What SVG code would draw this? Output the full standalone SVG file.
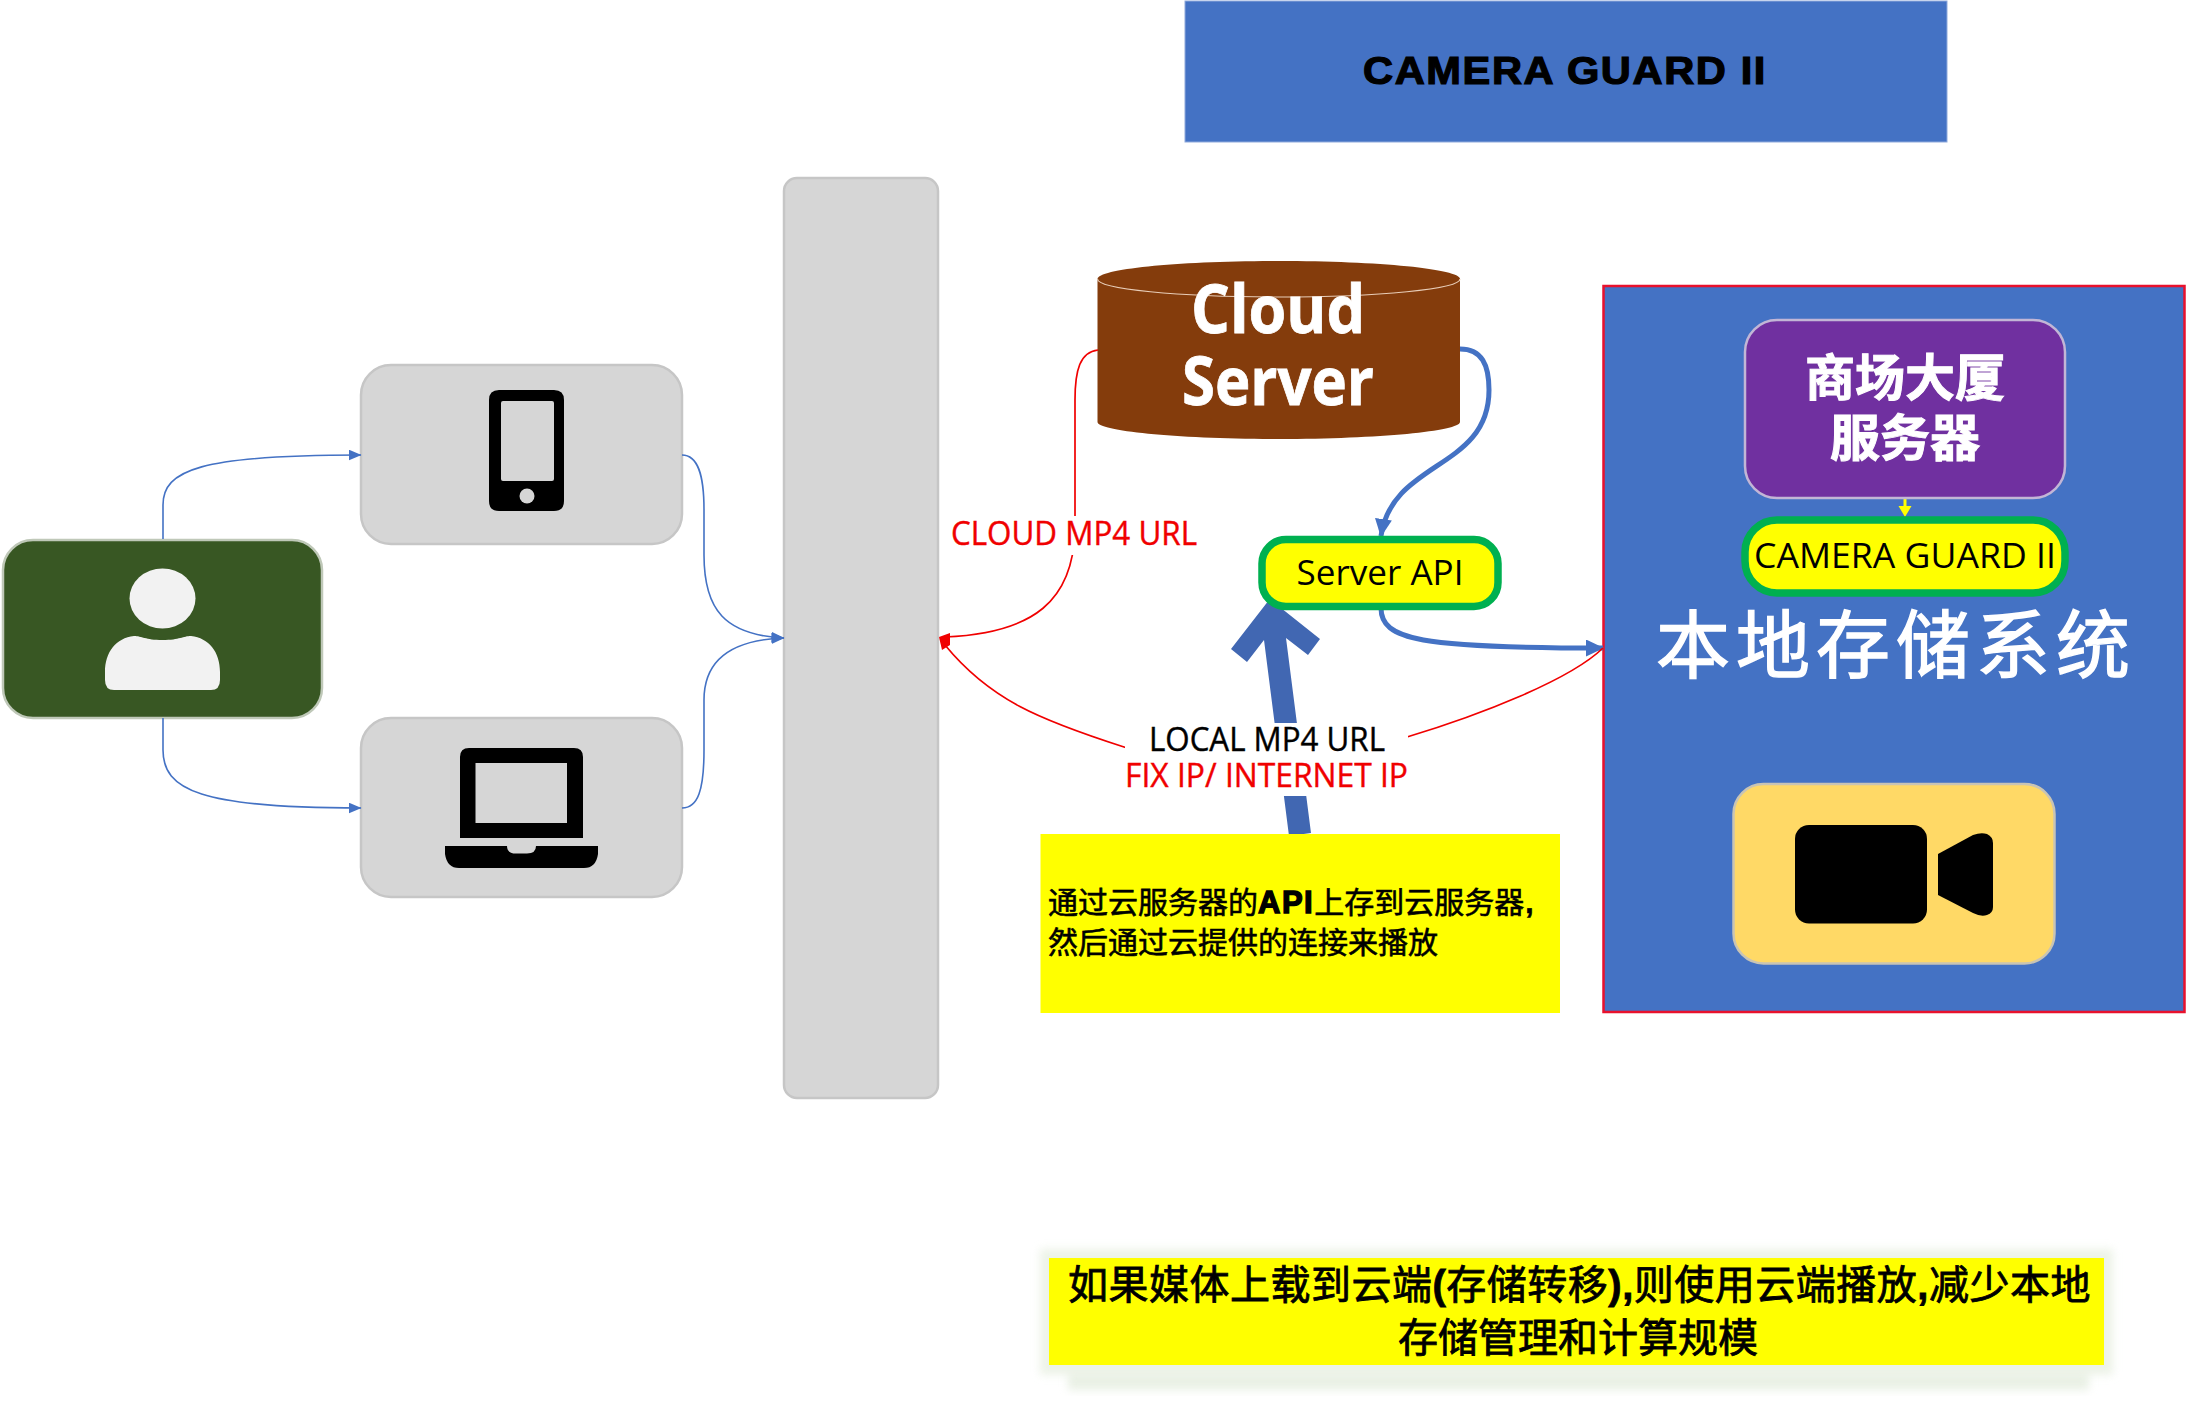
<svg xmlns="http://www.w3.org/2000/svg" width="2186" height="1403" viewBox="0 0 2186 1403">
<style>
.gray{fill:#D6D6D6;stroke:#C6C6C6;stroke-width:2.5}
.thin{fill:none;stroke:#4472C4;stroke-width:1.6}
.red{fill:none;stroke:#F00000;stroke-width:1.7}
.fat{fill:none;stroke:#4472C4;stroke-width:5}
.pill{fill:#FFFF00;stroke:#00B050;stroke-width:7.5}
.t{font-family:"Open Sans","Liberation Sans","Noto Sans CJK SC",sans-serif}
.cjk{font-family:"Noto Sans CJK SC",sans-serif}
.ar{font-family:"Liberation Sans","Noto Sans CJK SC",sans-serif}
.mid{text-anchor:middle}
</style>
<defs>
<marker id="ah" viewBox="0 0 13 11" refX="12.5" refY="5.5" markerWidth="13" markerHeight="11" markerUnits="userSpaceOnUse" orient="auto"><path d="M0 0L13 5.500L0 11Z" fill="#4472C4"/></marker>
<marker id="ahb" viewBox="0 0 18 17" refX="17" refY="8.5" markerWidth="18" markerHeight="17" markerUnits="userSpaceOnUse" orient="auto"><path d="M0 0L18 8.5L0 17Z" fill="#4472C4"/></marker>
<filter id="soft" x="-5%" y="-30%" width="110%" height="160%"><feGaussianBlur stdDeviation="4"/></filter>
</defs>

<g id="node-banner">
<rect x="1185" y="1" width="762" height="141" fill="#4472C4" stroke="#8FAADC" stroke-width="1"/>
<text class="ar mid" x="1565" y="84" font-size="39" font-weight="700" stroke="#000" stroke-width="1.200" letter-spacing="1.500" textLength="404" lengthAdjust="spacingAndGlyphs">CAMERA GUARD II</text>
</g>

<g id="node-local-storage">
<rect x="1603.500" y="286" width="581" height="726" fill="#4472C4" stroke="#E8112D" stroke-width="2.500"/>
<text class="cjk mid" x="1896" y="672" font-size="74" letter-spacing="6" fill="#fff" stroke="#fff" stroke-width="1.400">本地存储系统</text>
</g>

<g id="node-user">
<rect x="3" y="540" width="319" height="178" rx="30" fill="#385723" stroke="#BFC8B8" stroke-width="2.5"/>
<ellipse cx="162.500" cy="598.500" rx="33" ry="30" fill="#F2F2F2"/>
<path d="M105 672C105 652 116 638 134 636C142 636 145 640 162.500 640C180 640 183 636 191 636C209 638 220 652 220 672V680Q220 690 211 690H114Q105 690 105 680Z" fill="#F2F2F2"/>
</g>

<g id="node-phone">
<rect class="gray" x="361" y="365" width="321" height="179" rx="30"/>
<path fill-rule="evenodd" d="M499 390H554Q564 390 564 400V501Q564 511 554 511H499Q489 511 489 501V400Q489 390 499 390ZM503 401Q501 401 501 403V479Q501 481 503 481H552Q554 481 554 479V403Q554 401 552 401Z"/>
<ellipse cx="527" cy="496" rx="7.500" ry="7.500" fill="#D6D6D6"/>
</g>

<g id="node-laptop">
<rect class="gray" x="361" y="718" width="321" height="179" rx="30"/>
<path fill-rule="evenodd" d="M469 748H574Q583 748 583 757V838H460V757Q460 748 469 748ZM475.500 763V823H567V763Z"/>
<path d="M445 846H507Q507 853.500 516 853.500H527Q536 853.500 536 846H598V854Q596 868 584 868H459Q447 868 445 854Z"/>
</g>

<g id="node-gateway">
<rect class="gray" x="784" y="178" width="154" height="920" rx="13"/>
</g>

<g id="node-cloud-server">
<path d="M1097.500 279C1097.500 269 1178 261 1278.500 261C1379 261 1460 269 1460 279V422C1460 431 1379 439 1278.500 439C1178 439 1097.500 431 1097.500 422Z" fill="#843C0C"/>
<path d="M1097.500 279C1097.500 289 1178 297 1278.500 297C1379 297 1460 289 1460 279" fill="none" stroke="#E8CDB8" stroke-width="1.2"/>
<text class="t mid" x="1278" y="333" font-size="66" font-weight="700" fill="#fff" stroke="#fff" stroke-width=".8" textLength="174" lengthAdjust="spacingAndGlyphs">Cloud</text>
<text class="t mid" x="1278" y="405" font-size="66" font-weight="700" fill="#fff" stroke="#fff" stroke-width=".8" textLength="192" lengthAdjust="spacingAndGlyphs">Server</text>
</g>

<g id="connectors">
<path class="thin" marker-end="url(#ah)" d="M163 539V505C163 470 200 455 361 455"/>
<path class="thin" marker-end="url(#ah)" d="M163 718V750C163 790 200 808 361 808"/>
<path class="thin" marker-end="url(#ah)" d="M682 455C698 455 704 475 704 510V555C704 610 725 635 784 638"/>
<path class="thin" marker-end="url(#ah)" d="M682 808C698 808 704 790 704 750V700C704 665 725 640 784 638"/>
<path class="fat" marker-end="url(#ahb)" d="M1460 349C1482 349 1489 365 1489 390C1489 470 1392 460 1381 536"/>
<path class="fat" marker-end="url(#ahb)" d="M1381 608C1381 640 1420 648 1603 648"/>
<path class="red" d="M1098 350C1080 352 1075 370 1075 400V530C1073 600 1035 633 945 637"/>
<path class="red" d="M1603 648C1570 680 1480 715 1407 737C1310 768 1200 772 1124 747C1040 720 990 700 945 645"/>
<path d="M939 637L950 633L950 645L942 650Z" fill="#F00000"/>
<path d="M1269 600L1281 608L1320 639L1308 655L1286 638L1311 833L1289 836L1264 640L1247 662L1231 649Z" fill="#4167B2"/>
<path d="M1905 499V510" stroke="#FFFF00" stroke-width="3" fill="none"/>
<path d="M1898.500 506H1911.500L1905 517Z" fill="#FFFF00"/>
</g>

<g id="label-cloud-url">
<rect x="951" y="516" width="246" height="39" fill="#fff"/>
<text class="t" x="951" y="545" font-size="32" fill="#F00000" stroke="#F00000" stroke-width=".4" textLength="246" lengthAdjust="spacingAndGlyphs">CLOUD MP4 URL</text>
</g>

<g id="label-local-url">
<rect x="1125" y="723" width="283" height="73" fill="#fff"/>
<text class="t" x="1149" y="751" font-size="32" fill="#000" stroke="#000" stroke-width=".4" textLength="236" lengthAdjust="spacingAndGlyphs">LOCAL MP4 URL</text>
<text class="t" x="1125" y="787" font-size="32" fill="#F00000" stroke="#F00000" stroke-width=".4" textLength="283" lengthAdjust="spacingAndGlyphs">FIX IP/ INTERNET IP</text>
</g>

<g id="node-server-api">
<rect class="pill" x="1262" y="539.500" width="236" height="67" rx="24"/>
<text class="t mid" x="1380" y="585" font-size="34" textLength="167" lengthAdjust="spacingAndGlyphs">Server API</text>
</g>

<g id="node-note">
<rect x="1040.500" y="834" width="519.500" height="179" fill="#FFFF00"/>
<text class="cjk" x="1048" y="913" font-size="30" stroke="#000" stroke-width=".6">通过云服务器的<tspan class="ar" font-weight="700" font-size="31" stroke-width="1.400" letter-spacing="1.500">API</tspan>上存到云服务器<tspan class="ar" font-weight="700" dx="1">,</tspan></text>
<text class="cjk" x="1048" y="953" font-size="30" stroke="#000" stroke-width=".6">然后通过云提供的连接来播放</text>
</g>

<g id="node-mall-server">
<rect x="1745" y="320" width="320" height="178" rx="32" fill="#7030A0" stroke="#C2B6D6" stroke-width="2.500"/>
<text class="cjk mid" x="1905" y="396" font-size="50" font-weight="700" fill="#fff" stroke="#fff" stroke-width="1">商场大厦</text>
<text class="cjk mid" x="1905" y="456" font-size="50" font-weight="700" fill="#fff" stroke="#fff" stroke-width="1">服务器</text>
</g>

<g id="node-camera-guard">
<rect class="pill" x="1745" y="520" width="320" height="73" rx="32"/>
<text class="t mid" x="1905" y="568" font-size="35" textLength="302" lengthAdjust="spacingAndGlyphs">CAMERA GUARD II</text>
</g>

<g id="node-camera">
<rect x="1733.500" y="784" width="321" height="179.500" rx="30" fill="#FFD966" stroke="#C9C4B4" stroke-width="2.500"/>
<rect x="1795" y="825" width="132" height="98.500" rx="14"/>
<path d="M1938 854L1973 835Q1981 832 1987 834Q1993 837 1993 843V907Q1993 913 1987 915Q1981 917 1973 913L1938 895Z"/>
</g>

<g id="node-summary">
<rect x="1068" y="1372" width="1021" height="18" fill="#DCE7D4" filter="url(#soft)" opacity=".6"/>
<rect x="1040" y="1249" width="1073" height="126" fill="#E8F0E2" filter="url(#soft)" opacity=".8"/>
<rect x="1049" y="1258" width="1055" height="107" fill="#FFFF00"/>
<text class="cjk" x="1068" y="1299" font-size="40" stroke="#000" stroke-width=".8" letter-spacing=".5">如果媒体上载到云端<tspan class="ar" font-weight="700">(</tspan>存储转移<tspan class="ar" font-weight="700">),</tspan>则使用云端播放<tspan class="ar" font-weight="700">,</tspan>减少本地</text>
<text class="cjk mid" x="1578" y="1352" font-size="40" stroke="#000" stroke-width=".8">存储管理和计算规模</text>
</g>
</svg>
